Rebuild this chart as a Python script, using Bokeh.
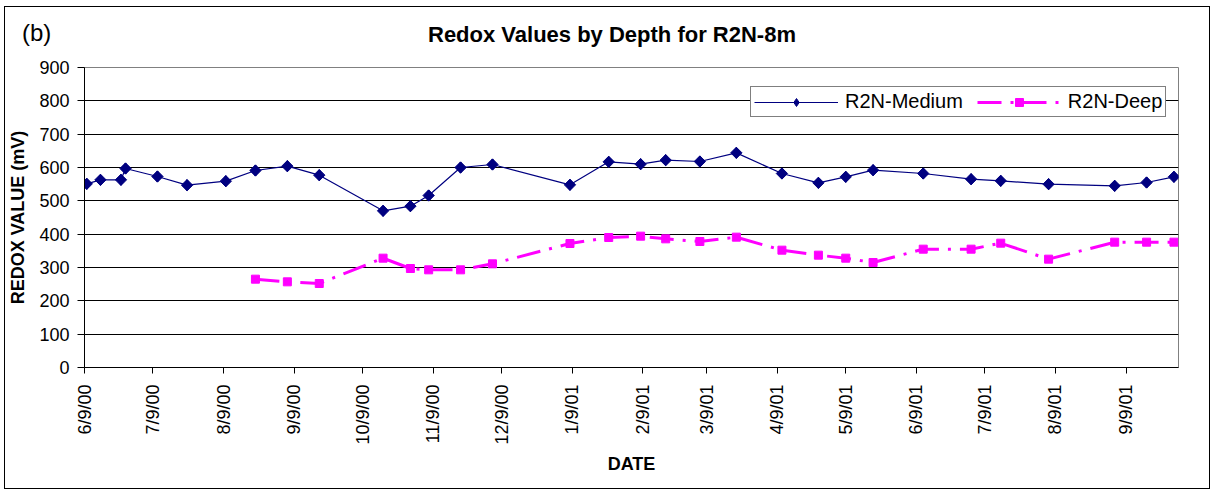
import numpy as np
import pandas as pd
from datetime import datetime
from bokeh.plotting import figure
from bokeh.layouts import column
from bokeh.models import (Range1d, FixedTicker, CustomJSTickFormatter, Div,
                          Legend, LegendItem)
from bokeh.embed import file_html
from bokeh.resources import INLINE

# ---------------- data ----------------
medium_dates = ["2000-06-10", "2000-06-16", "2000-06-25", "2000-06-27", "2000-07-11",
                "2000-07-24", "2000-08-10", "2000-08-23", "2000-09-06", "2000-09-20",
                "2000-10-18", "2000-10-30", "2000-11-07", "2000-11-21", "2000-12-05",
                "2001-01-08", "2001-01-25", "2001-02-08", "2001-02-19", "2001-03-06",
                "2001-03-22", "2001-04-11", "2001-04-27", "2001-05-09", "2001-05-21",
                "2001-06-12", "2001-07-03", "2001-07-16", "2001-08-06", "2001-09-04",
                "2001-09-18", "2001-09-30"]
medium_values = [551, 563, 563, 597, 573, 547, 559, 591, 604, 577,
                 470, 484, 516, 600, 609, 548, 617, 610, 622, 618,
                 644, 582, 554, 572, 592, 582, 565, 560, 550, 545,
                 555, 572]

deep_dates = ["2000-08-23", "2000-09-06", "2000-09-20", "2000-10-18", "2000-10-30",
              "2000-11-07", "2000-11-21", "2000-12-05", "2001-01-08", "2001-01-25",
              "2001-02-08", "2001-02-19", "2001-03-06", "2001-03-22", "2001-04-11",
              "2001-04-27", "2001-05-09", "2001-05-21", "2001-06-12", "2001-07-03",
              "2001-07-16", "2001-08-06", "2001-09-04", "2001-09-18", "2001-09-30"]
deep_values = [265, 257, 252, 328, 297, 293, 293, 311, 372, 390,
               394, 386, 378, 391, 352, 337, 328, 315, 355, 355,
               373, 325, 376, 376, 376]

tick_dates = ["2000-06-09", "2000-07-09", "2000-08-09", "2000-09-09", "2000-10-09",
              "2000-11-09", "2000-12-09", "2001-01-09", "2001-02-09", "2001-03-09",
              "2001-04-09", "2001-05-09", "2001-06-09", "2001-07-09", "2001-08-09",
              "2001-09-09"]
tick_labels = ["6/9/00", "7/9/00", "8/9/00", "9/9/00", "10/9/00", "11/9/00", "12/9/00",
               "1/9/01", "2/9/01", "3/9/01", "4/9/01", "5/9/01", "6/9/01", "7/9/01",
               "8/9/01", "9/9/01"]
y_ticks = [0, 100, 200, 300, 400, 500, 600, 700, 800, 900]

series_names = ["R2N-Medium", "R2N-Deep"]
title_text = "Redox Values by Depth for R2N-8m"
panel_tag = "(b)"
x_title = "DATE"
y_title = "REDOX VALUE (mV)"

# ---------------- figure ----------------
md = pd.to_datetime(medium_dates)
dd = pd.to_datetime(deep_dates)
tick_ms = [float(pd.Timestamp(t).value // 10**6) for t in tick_dates]

FONT = "Liberation Sans"
W, H = 1206, 483
ML, MR, MT, MB = 77, 33, 60, 123

p = figure(width=W, height=H, x_axis_type="datetime",
           x_range=Range1d(datetime(2000, 6, 9), datetime(2001, 10, 2)),
           y_range=Range1d(0, 900),
           output_backend="svg", toolbar_location=None,
           min_border_left=ML, min_border_right=MR,
           min_border_top=MT, min_border_bottom=MB,
           background_fill_color="white", border_fill_color="white",
           styles={"border": "1px solid black", "margin-left": "4px", "margin-top": "6px"})

p.outline_line_color = "#808080"
p.outline_line_width = 1

p.xgrid.visible = False
p.ygrid.grid_line_color = "black"
p.ygrid.grid_line_width = 1
p.ygrid.ticker = FixedTicker(ticks=y_ticks)

# y axis
p.yaxis.ticker = FixedTicker(ticks=y_ticks)
p.yaxis.axis_line_color = "black"
p.yaxis.major_tick_line_color = "black"
p.yaxis.major_tick_out = 7
p.yaxis.major_tick_in = 0
p.yaxis.minor_tick_line_color = None
p.yaxis.major_label_text_font = FONT
p.yaxis.major_label_text_font_size = "18px"
p.yaxis.major_label_text_color = "black"
p.yaxis.major_label_standoff = 8
p.yaxis.axis_label = y_title
p.yaxis.axis_label_text_font = FONT
p.yaxis.axis_label_text_font_size = "18px"
p.yaxis.axis_label_text_font_style = "bold"
p.yaxis.axis_label_text_color = "black"
p.yaxis.axis_label_standoff = 8

# x axis
p.xaxis.ticker = FixedTicker(ticks=tick_ms)
p.xaxis.formatter = CustomJSTickFormatter(args=dict(tvals=tick_ms, tlabs=tick_labels), code="""
let best = -1, bd = Infinity;
for (let i = 0; i < tvals.length; i++) {
  const d = Math.abs(tvals[i] - tick);
  if (d < bd) { bd = d; best = i; }
}
return bd < 86400000 ? tlabs[best] : "";
""")
p.xaxis.major_label_orientation = np.pi / 2
p.xaxis.axis_line_color = "black"
p.xaxis.major_tick_line_color = "black"
p.xaxis.major_tick_out = 6
p.xaxis.major_tick_in = 0
p.xaxis.minor_tick_line_color = None
p.xaxis.major_label_text_font = FONT
p.xaxis.major_label_text_font_size = "18px"
p.xaxis.major_label_text_color = "black"
p.xaxis.major_label_standoff = 11
p.xaxis.axis_label = x_title
p.xaxis.axis_label_text_font = FONT
p.xaxis.axis_label_text_font_size = "18px"
p.xaxis.axis_label_text_font_style = "bold"
p.xaxis.axis_label_text_color = "black"
p.xaxis.axis_label_standoff = 6

# series
NAVY = "#000080"
MAG = "#FF00FF"
m_line = p.line(md, medium_values, line_color=NAVY, line_width=1.2)
# diamond used for the legend swatch (hidden under the rotated squares)
m_leg = p.scatter(md, medium_values, marker="diamond", size=11,
                  fill_color=NAVY, line_color=NAVY)
m_pts = p.scatter(md, medium_values, marker="square", angle=np.pi / 4, size=8,
                  fill_color=NAVY, line_color=NAVY)
d_line = p.line(dd, deep_values, line_color=MAG, line_width=3, line_dash="24 9 3 9",
                line_cap="butt")
d_pts = p.scatter(dd, deep_values, marker="square", size=8,
                  fill_color=MAG, line_color=MAG)

leg = Legend(items=[LegendItem(label=series_names[0], renderers=[m_line, m_leg]),
                    LegendItem(label=series_names[1], renderers=[d_line, d_pts])])
leg.orientation = "horizontal"
leg.location = (666, 250)
leg.glyph_width = 84
leg.glyph_height = 20
leg.label_text_font = FONT
leg.label_text_font_size = "20px"
leg.label_text_color = "black"
leg.border_line_color = "black"
leg.border_line_width = 1
leg.background_fill_color = "white"
leg.background_fill_alpha = 1
leg.padding = 3
leg.spacing = 14
leg.margin = 0
leg.label_standoff = 7
p.add_layout(leg, "center")

# title and panel tag as overlaid text elements
title_div = Div(text=title_text, width=500, height=26,
                styles={"position": "absolute", "left": "357px", "top": "17px",
                        "font-family": "Liberation Sans", "font-size": "22px",
                        "font-weight": "bold", "text-align": "center",
                        "color": "black", "line-height": "26px", "z-index": "10"})
tag = Div(text=panel_tag, width=40, height=26,
          styles={"position": "absolute", "left": "17px", "top": "15px",
                  "font-family": "Liberation Sans", "font-size": "24px",
                  "color": "black", "line-height": "26px", "z-index": "10"})

layout = column(p, title_div, tag, styles={"position": "relative"})

open("out.html", "w").write(file_html(layout, INLINE))
